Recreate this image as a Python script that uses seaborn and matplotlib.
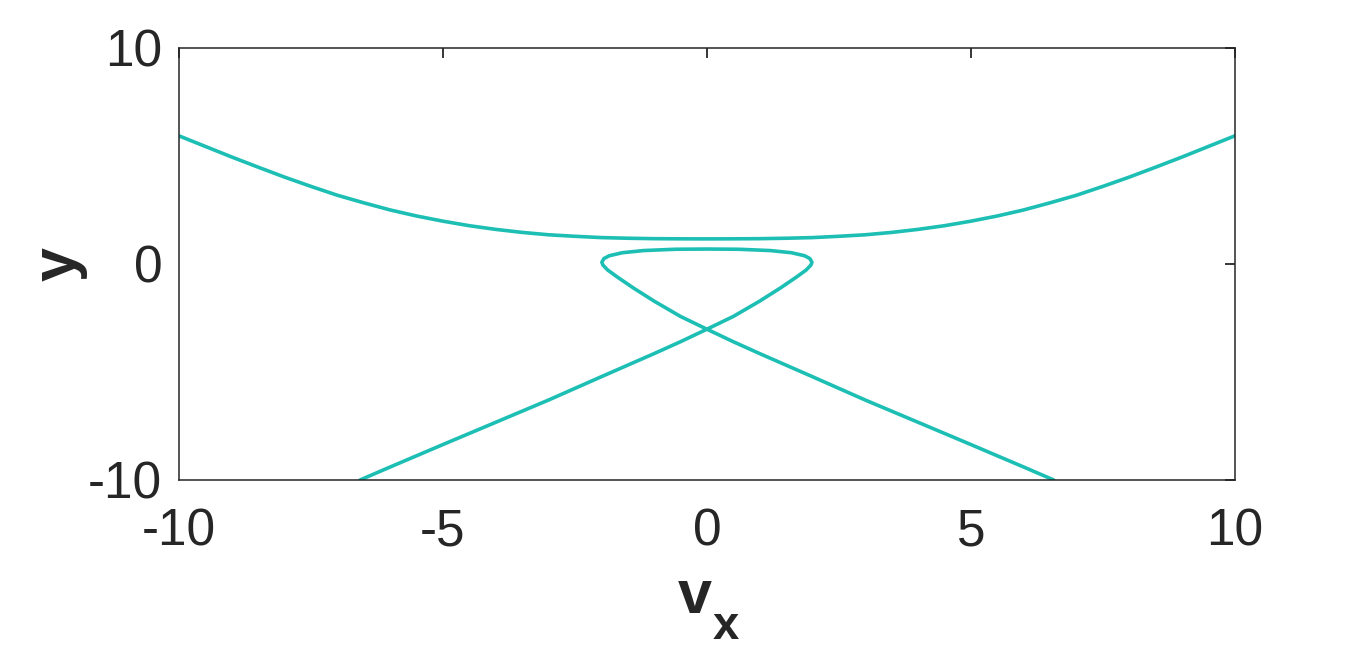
import pandas as pd
import matplotlib
matplotlib.use('Agg')
import matplotlib.pyplot as plt
import seaborn as sns

# upper branch
upper_x = [-10, -9.5, -9, -8.5, -8, -7.5, -7, -6.5, -6, -5.5, -5, -4.5, -4, -3.5, -3, -2.5, -2, -1.5, -1, -0.5,
           0, 0.5, 1, 1.5, 2, 2.5, 3, 3.5, 4, 4.5, 5, 5.5, 6, 6.5, 7, 7.5, 8, 8.5, 9, 9.5, 10]
upper_y = [5.93, 5.44, 4.95, 4.48, 4.02, 3.59, 3.18, 2.83, 2.50, 2.22, 1.98, 1.77, 1.60, 1.46, 1.35, 1.28, 1.22, 1.19, 1.17, 1.163,
           1.16, 1.163, 1.17, 1.19, 1.22, 1.28, 1.35, 1.46, 1.60, 1.77, 1.98, 2.22, 2.50, 2.83, 3.18, 3.59, 4.02, 4.48, 4.95, 5.44, 5.93]

# lower branch with the loop, in drawing order
loop_x = [-6.57, -6, -5, -4, -3, -2, -1, -0.5, 0, 0.5, 1.0, 1.4, 1.7, 1.88, 1.97, 1.99, 1.95, 1.85, 1.6, 1.2, 0.6,
          0, -0.6, -1.2, -1.6, -1.85, -1.95, -1.99, -1.97, -1.88, -1.7, -1.4, -1.0, -0.5, 0, 0.5, 1, 2, 3, 4, 5, 6, 6.57]
loop_y = [-10, -9.4, -8.36, -7.33, -6.3, -5.22, -4.15, -3.6, -3.02, -2.43, -1.72, -1.1, -0.6, -0.28, -0.05, 0.08, 0.25, 0.38, 0.52, 0.62, 0.68,
          0.69, 0.68, 0.62, 0.52, 0.38, 0.25, 0.08, -0.05, -0.28, -0.6, -1.1, -1.72, -2.43, -3.02, -3.6, -4.15, -5.22, -6.3, -7.33, -8.36, -9.4, -10]

x_ticks = [-10, -5, 0, 5, 10]
y_ticks = [-10, 0, 10]

upper = pd.DataFrame({'vx': upper_x, 'y': upper_y})
loop = pd.DataFrame({'vx': loop_x, 'y': loop_y})

sns.set_style('white')
plt.rcParams['font.family'] = ['Liberation Sans', 'DejaVu Sans']

dark = '#262626'
teal = '#1DBFB4'

fig = plt.figure(figsize=(13.66, 6.51), dpi=100)
ax = fig.add_axes([0.131, 0.2627, 0.773, 0.6637])

sns.lineplot(data=upper, x='vx', y='y', sort=False, estimator=None, color=teal, linewidth=2.6, ax=ax)
sns.lineplot(data=loop, x='vx', y='y', sort=False, estimator=None, color=teal, linewidth=2.6, ax=ax)

ax.set_xlim(-10, 10)
ax.set_ylim(-10, 10)
ax.set_xticks(x_ticks)
ax.set_yticks(y_ticks)
ax.set_xticklabels([str(t) for t in x_ticks])
ax.set_yticklabels([str(t) for t in y_ticks])

ax.tick_params(direction='in', length=7, width=1.3, color=dark, labelcolor=dark,
               labelsize=37, top=True, right=True)
ax.tick_params(axis='x', pad=20)
ax.tick_params(axis='y', pad=12)
for s in ax.spines.values():
    s.set_visible(True)
    s.set_color(dark)
    s.set_linewidth(1.1)

ax.set_xlabel('')
ax.set_ylabel('')
# axis labels: bold v with a large subscript x, and a rotated bold y
fig.text(0.521, 0.058, 'v', fontsize=44, fontweight='bold', color=dark, ha='right', va='baseline')
fig.text(0.5215, 0.019, 'x', fontsize=34, fontweight='bold', color=dark, ha='left', va='baseline')
fig.text(0.043, 0.595, 'y', fontsize=44, fontweight='bold', color=dark, rotation=90,
         ha='center', va='center')

fig.savefig('out.png', dpi=100, facecolor='white')
